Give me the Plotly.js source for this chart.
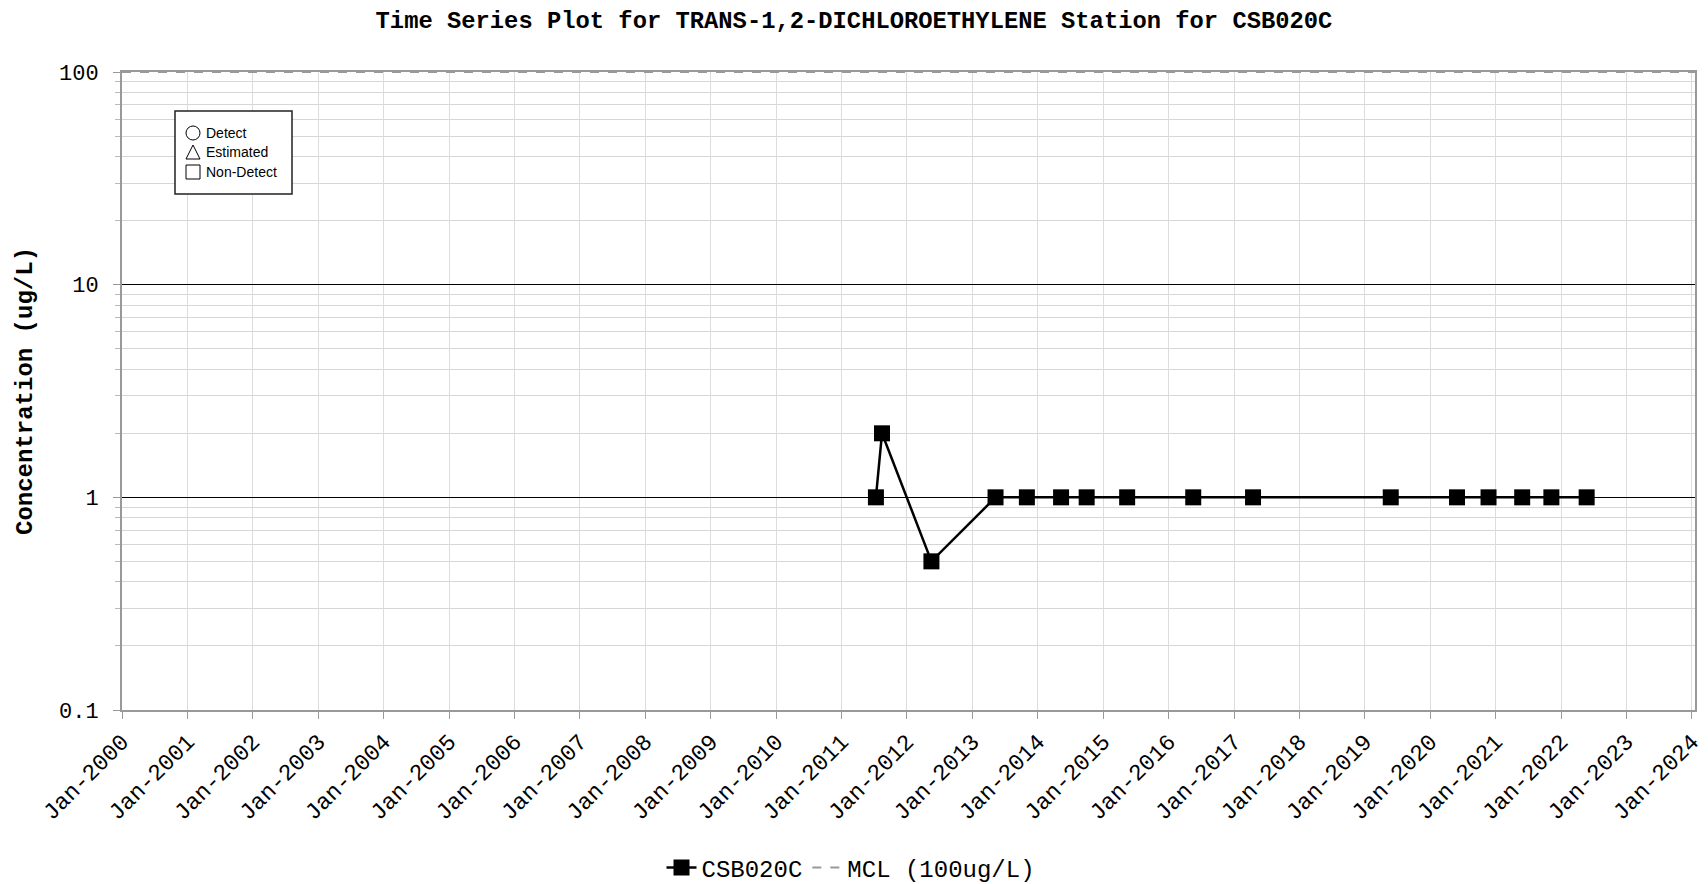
<!DOCTYPE html>
<html>
<head>
<meta charset="utf-8">
<script src="https://cdn.plot.ly/plotly-3.0.1.min.js"></script>
<style>html,body{margin:0;padding:0;background:#fff;}#chart{width:1708px;height:884px;}</style>
</head>
<body>
<div id="chart"></div>
<script>
// ---- data ----
const stationName = 'CSB020C';
const sampleDates = [
  '2011-07-12','2011-08-15','2012-05-17','2013-05-10','2013-11-01','2014-05-11',
  '2014-10-01','2015-05-15','2016-05-18','2017-04-17','2019-05-26','2020-05-30',
  '2020-11-22','2021-05-29','2021-11-08','2022-05-24'
];
const concentrations = [1, 2, 0.5, 1, 1, 1, 1, 1, 1, 1, 1, 1, 1, 1, 1, 1];
const mclName = 'MCL (100ug/L)';
const mclDates = ['2000-01-01', '2024-01-19'];
const mclValues = [100, 100];
const yTickVals = [0.1, 1, 10, 100];
const yTickText = ['0.1', '1', '10', '100'];
const inLegendLabels = ['Detect', 'Estimated', 'Non-Detect'];

const mono = 'Liberation Mono, Courier New, monospace';

const traces = [
  {
    x: sampleDates, y: concentrations, name: stationName,
    type: 'scatter', mode: 'lines+markers',
    line: {color: '#000', width: 2.5},
    marker: {symbol: 'square', size: 16, color: '#000'},
    cliponaxis: false
  },
  {
    x: mclDates, y: mclValues, name: mclName,
    type: 'scatter', mode: 'lines',
    line: {color: '#999', width: 2, dash: 'dash'}
  }
];

// pixel -> paper helpers for plot area (l=122, r=1695, t=72, b=710)
const PL = 122, PR = 1695, PT = 72, PB = 710;
const px = v => (v - PL) / (PR - PL);
const py = v => (PB - v) / (PB - PT);

const shapes = [
  {type: 'rect', xref: 'paper', yref: 'paper', x0: px(175), x1: px(292), y0: py(194), y1: py(111),
   line: {color: '#222', width: 1.5}, fillcolor: '#fff', layer: 'above'},
  {type: 'circle', xref: 'paper', yref: 'paper', x0: px(186), x1: px(200), y0: py(140), y1: py(126),
   line: {color: '#000', width: 1}, layer: 'above'},
  {type: 'path', xref: 'paper', yref: 'paper',
   path: `M ${px(193)},${py(145)} L ${px(186)},${py(159)} L ${px(200)},${py(159)} Z`,
   line: {color: '#000', width: 1}, layer: 'above'},
  {type: 'rect', xref: 'paper', yref: 'paper', x0: px(186), x1: px(200), y0: py(179), y1: py(165),
   line: {color: '#000', width: 1}, layer: 'above'}
];

const legendRowsY = [133, 152, 172];
const annotations = inLegendLabels.map((t, i) => ({
  text: t, xref: 'paper', yref: 'paper', x: px(204), y: py(legendRowsY[i]),
  xanchor: 'left', yanchor: 'middle', showarrow: false,
  font: {family: 'Liberation Sans Narrow, Liberation Sans, Arial, sans-serif', size: 14, color: '#000'}
}));

const layout = {
  width: 1708, height: 884,
  margin: {l: PL, r: 1708 - PR, t: PT, b: 884 - PB, autoexpand: false},
  paper_bgcolor: '#fff', plot_bgcolor: '#fff',
  title: {
    text: 'Time Series Plot for TRANS-1,2-DICHLOROETHYLENE Station for CSB020C',
    font: {family: mono, size: 23.8, color: '#000', weight: 'bold'},
    x: 0.5, xref: 'container', xanchor: 'center',
    y: 1 - 20 / 884, yref: 'container', yanchor: 'middle'
  },
  xaxis: {
    type: 'date',
    range: ['2000-01-01', '2024-01-19'],
    tick0: '2000-01-01', dtick: 'M12', tickformat: '%b-%Y',
    tickangle: -45,
    ticks: 'outside', ticklen: 7, tickcolor: '#999',
    tickfont: {family: mono, size: 23, color: '#000'},
    showgrid: true, gridcolor: '#dcdcdc', gridwidth: 1,
    showline: true, linecolor: '#999', linewidth: 2, mirror: true,
    zeroline: false, automargin: false
  },
  yaxis: {
    type: 'log',
    range: [-1, 2],
    tickvals: yTickVals, ticktext: yTickText,
    ticks: 'outside', ticklen: 7, tickcolor: '#999',
    ticklabelstandoff: 10,
    tickfont: {family: mono, size: 22, color: '#000'},
    showgrid: true, gridcolor: '#000', gridwidth: 1,
    minor: {dtick: 'D1', showgrid: true, gridcolor: '#d6d6d6', gridwidth: 1, ticks: 'outside', ticklen: 5, tickcolor: '#bbb'},
    showline: true, linecolor: '#999', linewidth: 2, mirror: true,
    zeroline: false, automargin: false,
    title: {text: 'Concentration (ug/L)', font: {family: mono, size: 24, color: '#000', weight: 'bold'}, standoff: 20}
  },
  showlegend: true,
  legend: {
    orientation: 'h', xref: 'container', x: 851 / 1708, xanchor: 'center',
    yref: 'container', y: 1 - 868 / 884, yanchor: 'middle',
    font: {family: mono, size: 24, color: '#000'},
    bgcolor: 'rgba(0,0,0,0)'
  },
  shapes: shapes,
  annotations: annotations
};

Plotly.newPlot('chart', traces, layout, {displayModeBar: false, staticPlot: true});
</script>
</body>
</html>
